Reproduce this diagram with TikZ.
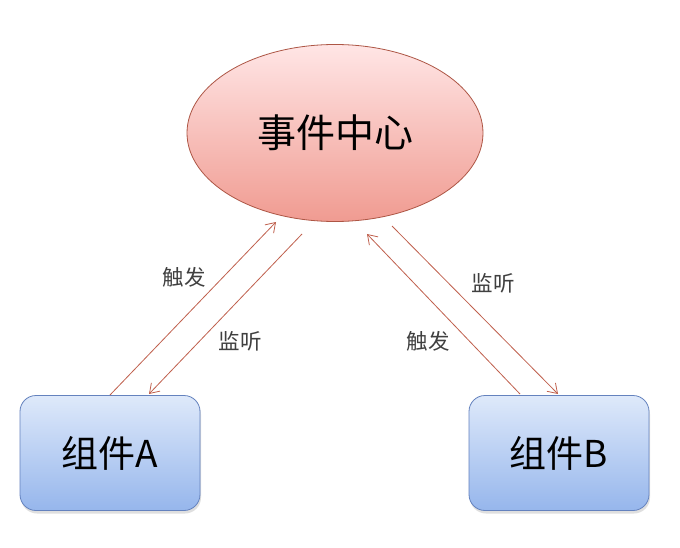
\documentclass[tikz,border=0pt]{standalone}
\usepackage{fontspec}
\newfontfamily\cjk{Noto Sans CJK SC}
\usetikzlibrary{shapes.geometric,arrows.meta,shadows}
\definecolor{arr}{HTML}{C0604D}
\definecolor{lbl}{HTML}{404040}
\tikzset{
  hub/.style={ellipse, draw=arr!90!black, line width=0.8pt, top color=red!10!white, bottom color={rgb,255:red,240;green,155;blue,145},
    minimum width=296pt, minimum height=177pt, inner sep=0pt,
    font=\cjk\fontsize{39}{42}\selectfont, text=black},
  comp/.style={rectangle, rounded corners=16pt, draw={rgb,255:red,100;green,130;blue,190}, line width=0.8pt,
    top color={rgb,255:red,222;green,233;blue,250}, bottom color={rgb,255:red,150;green,182;blue,236},
    minimum width=180pt, minimum height=115pt, inner sep=0pt,
    drop shadow={opacity=0.25, shadow xshift=1pt, shadow yshift=-3pt},
    font=\cjk\fontsize{37}{40}\selectfont, text=black},
  link/.style={draw=arr, line width=0.8pt, -{Straight Barb[length=9pt,width=12pt]}},
  lab/.style={font=\cjk\fontsize{21.5}{24}\selectfont, text=lbl}
}
\begin{document}
\begin{tikzpicture}[x=1pt,y=-1pt]
\useasboundingbox[fill=white] (0,0) rectangle (680,548);
\node[hub] (ev) at (335,133) {事件中心};
\node[comp] (a) at (110,453) {组件A};
\node[comp] (b) at (559,453) {组件B};
\coordinate (a1) at (110,395);
\coordinate (a2) at (276,222);
\coordinate (a3) at (302,234);
\coordinate (a4) at (149,394);
\coordinate (b1) at (520,394);
\coordinate (b2) at (367,234);
\coordinate (b3) at (392,226);
\coordinate (b4) at (558,394);
\draw[link] (a1) -- (a2);
\draw[link] (a3) -- (a4);
\draw[link] (b1) -- (b2);
\draw[link] (b3) -- (b4);
\node[lab] (t1) at (184,277) {触发};
\node[lab] (t2) at (240,341) {监听};
\node[lab] (t3) at (493,283) {监听};
\node[lab] (t4) at (428,341) {触发};
\end{tikzpicture}
\end{document}
